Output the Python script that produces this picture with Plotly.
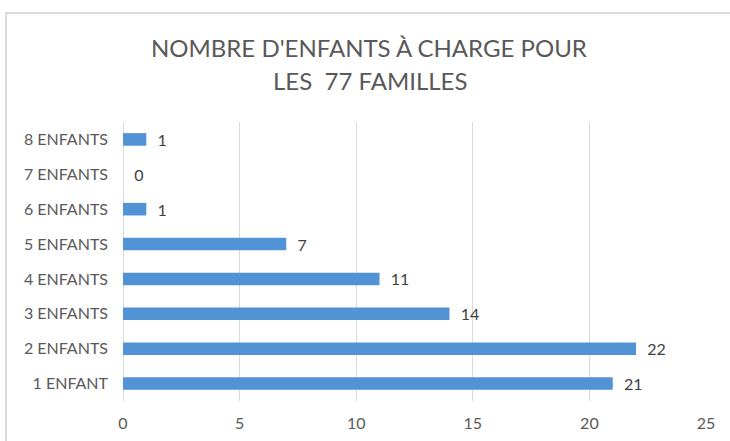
import plotly.graph_objects as go

categories = ["1 ENFANT", "2 ENFANTS", "3 ENFANTS", "4 ENFANTS", "5 ENFANTS",
              "6 ENFANTS", "7 ENFANTS", "8 ENFANTS"]
values = [21, 22, 14, 11, 7, 1, 0, 1]
title_lines = ["NOMBRE D'ENFANTS À CHARGE POUR", "LES  77 FAMILLES"]
x_ticks = [0, 5, 10, 15, 20, 25]

FONT = "Lato, Open Sans, sans-serif"
GRAY = "#595959"

fig = go.Figure(go.Bar(
    x=values, y=categories, orientation="h",
    marker=dict(color="#5293d6", line=dict(width=0)),
    width=0.36,
    text=values,
    texttemplate="\u00a0\u00a0%{x}",
    textposition="outside",
    constraintext="none",
    textfont=dict(family=FONT, size=16, color="#404040"),
    cliponaxis=False,
))

fig.update_layout(
    width=730, height=441,
    margin=dict(l=123, r=24, t=121.5, b=39.5),
    paper_bgcolor="white", plot_bgcolor="white",
    showlegend=False,
    font=dict(family=FONT, color=GRAY),
    xaxis=dict(range=[0, 25], tickvals=x_ticks, showgrid=True, gridcolor="#d9d9d9",
               gridwidth=1, zeroline=True, zerolinecolor="#d9d9d9", zerolinewidth=1,
               showline=False, tickfont=dict(family=FONT, size=16, color=GRAY),
               ticks="", ticklabelstandoff=11, fixedrange=True, automargin=False),
    yaxis=dict(categoryorder="array", categoryarray=categories, showgrid=False,
               zeroline=False, showline=False, ticks="",
               tickfont=dict(family=FONT, size=16, color=GRAY),
               ticklabelstandoff=14, range=[-0.5, 7.5], automargin=False),
    shapes=[dict(type="rect", xref="paper", yref="paper",
                 x0=(6 - 123) / 583, x1=1.2, y0=-0.3, y1=(401.5 - 12) / 280,
                 line=dict(color="#d0d0d0", width=1.5), layer="below")],
    annotations=[
        dict(text=title_lines[0], xref="paper", yref="paper",
             x=(369 - 123) / 583, y=(401.5 - 47) / 280, xanchor="center", yanchor="middle",
             showarrow=False, font=dict(family=FONT, size=24, color=GRAY)),
        dict(text=title_lines[1], xref="paper", yref="paper",
             x=(370 - 123) / 583, y=(401.5 - 80) / 280, xanchor="center", yanchor="middle",
             showarrow=False, font=dict(family=FONT, size=24, color=GRAY)),
    ],
)

fig.write_html("out.html", config={"displayModeBar": False},
               post_script="document.body.style.margin='0';")
